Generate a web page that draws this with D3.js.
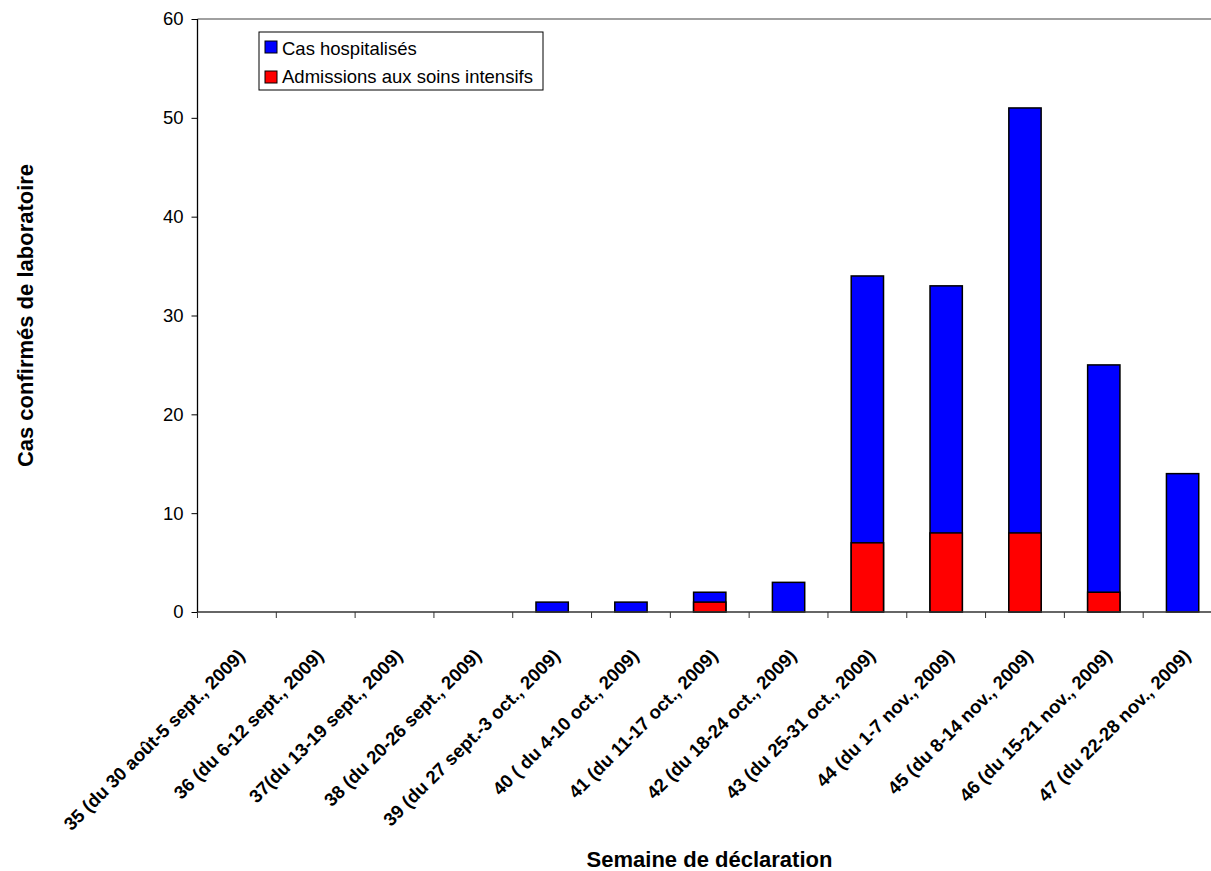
<!DOCTYPE html>
<html>
<head>
<meta charset="utf-8">
<script src="https://cdn.jsdelivr.net/npm/d3@7"></script>
<style>
  body { margin: 0; background: #fff; overflow: hidden; }
  svg { font-family: "Liberation Sans", Arial, sans-serif; }
</style>
</head>
<body>
<div id="chart"></div>
<script>
const weeks = [
  "35 (du 30 août-5 sept., 2009)",
  "36 (du 6-12 sept., 2009)",
  "37(du 13-19 sept., 2009)",
  "38 (du 20-26 sept., 2009)",
  "39 (du 27 sept.-3 oct., 2009)",
  "40 ( du 4-10 oct., 2009)",
  "41 (du 11-17 oct., 2009)",
  "42 (du 18-24 oct., 2009)",
  "43 (du 25-31 oct., 2009)",
  "44 (du 1-7 nov., 2009)",
  "45 (du 8-14 nov., 2009)",
  "46 (du 15-21 nov., 2009)",
  "47 (du 22-28 nov., 2009)"
]
const hospitalises = [0, 0, 0, 0, 1, 1, 2, 3, 34, 33, 51, 25, 14]
const soinsIntensifs = [0, 0, 0, 0, 0, 0, 1, 0, 7, 8, 8, 2, 0]
const yTicks = [0, 10, 20, 30, 40, 50, 60]
const seriesNames = ["Cas hospitalisés", "Admissions aux soins intensifs"]
const seriesColors = ["#0000ff", "#ff0000"]

const W = 1211, H = 871
// plot area runs past the right edge of the picture, like the original
const margin = { left: 197.5, top: 19, plotW: 1024.5, plotH: 593 }

const svg = d3.select("#chart").append("svg")
  .attr("width", W)
  .attr("height", H)

const x = d3.scaleBand()
  .domain(weeks)
  .range([margin.left, margin.left + margin.plotW])
  .paddingInner(0.59)
  .paddingOuter(0.295)

const xOuter = d3.scaleBand()
  .domain(weeks)
  .range([margin.left, margin.left + margin.plotW])

const y = d3.scaleLinear()
  .domain([0, 60])
  .range([margin.top + margin.plotH, margin.top])

// top border of the plot area
svg.append("line")
  .attr("x1", margin.left).attr("x2", margin.left + margin.plotW)
  .attr("y1", y(60)).attr("y2", y(60))
  .attr("stroke", "#808080").attr("stroke-width", 1.3)

// bars: blue = hospitalised total, red = ICU admissions on the bottom
const g = svg.append("g")
g.selectAll(".hosp")
  .data(weeks.map((w, i) => ({ w: w, v: hospitalises[i] })).filter(d => d.v > 0))
  .enter().append("rect")
  .attr("class", "hosp")
  .attr("x", d => x(d.w))
  .attr("width", x.bandwidth())
  .attr("y", d => y(d.v))
  .attr("height", d => y(0) - y(d.v))
  .attr("fill", seriesColors[0])
  .attr("stroke", "#000").attr("stroke-width", 1.5)

g.selectAll(".icu")
  .data(weeks.map((w, i) => ({ w: w, v: soinsIntensifs[i] })).filter(d => d.v > 0))
  .enter().append("rect")
  .attr("class", "icu")
  .attr("x", d => x(d.w))
  .attr("width", x.bandwidth())
  .attr("y", d => y(d.v))
  .attr("height", d => y(0) - y(d.v))
  .attr("fill", seriesColors[1])
  .attr("stroke", "#000").attr("stroke-width", 1.5)

// y axis
const yAxis = svg.append("g")
  .attr("transform", "translate(" + margin.left + ",0)")
  .call(d3.axisLeft(y).tickValues(yTicks).tickSize(6).tickPadding(8))
yAxis.select(".domain").attr("stroke", "#000").attr("stroke-width", 1.3)
  .attr("d", "M0," + y(60) + "V" + y(0))
yAxis.selectAll(".tick line").attr("stroke", "#000")
yAxis.selectAll(".tick text")
  .attr("font-size", 18.5)
  .attr("fill", "#000")
  .attr("font-family", "Liberation Sans, Arial, sans-serif")

// x axis: ticks on category boundaries
const xBase = y(0)
svg.append("line")
  .attr("x1", margin.left).attr("x2", margin.left + margin.plotW)
  .attr("y1", xBase).attr("y2", xBase)
  .attr("stroke", "#333").attr("stroke-width", 1.3)

const bounds = weeks.map(w => xOuter(w)).concat([margin.left + margin.plotW])
svg.append("g").selectAll("line")
  .data(bounds)
  .enter().append("line")
  .attr("x1", d => d).attr("x2", d => d)
  .attr("y1", xBase).attr("y2", xBase + 6)
  .attr("stroke", "#333")

svg.append("g").selectAll("text")
  .data(weeks)
  .enter().append("text")
  .attr("transform", d => "translate(" + (xOuter(d) + xOuter.bandwidth() / 2 + 9) + "," + (xBase + 45) + ") rotate(-45)")
  .attr("text-anchor", "end")
  .attr("font-size", 18.5)
  .attr("font-weight", "bold")
  .text(d => d)

// axis titles
svg.append("text")
  .attr("x", 709.5).attr("y", 867)
  .attr("text-anchor", "middle")
  .attr("font-size", 22)
  .attr("font-weight", "bold")
  .text("Semaine de déclaration")

svg.append("text")
  .attr("transform", "translate(33," + (margin.top + margin.plotH / 2) + ") rotate(-90)")
  .attr("text-anchor", "middle")
  .attr("font-size", 22)
  .attr("font-weight", "bold")
  .text("Cas confirmés de laboratoire")

// legend
const legend = svg.append("g").attr("transform", "translate(259,32)")
legend.append("rect")
  .attr("width", 284).attr("height", 58)
  .attr("fill", "#fff").attr("stroke", "#000").attr("stroke-width", 1)
seriesNames.forEach(function (name, i) {
  legend.append("rect")
    .attr("x", 6).attr("y", 9 + i * 30)
    .attr("width", 12).attr("height", 12)
    .attr("fill", seriesColors[i]).attr("stroke", "#000")
  legend.append("text")
    .attr("x", 23).attr("y", 23 + i * 28)
    .attr("font-size", 18.5)
    .text(name)
})
</script>
</body>
</html>
